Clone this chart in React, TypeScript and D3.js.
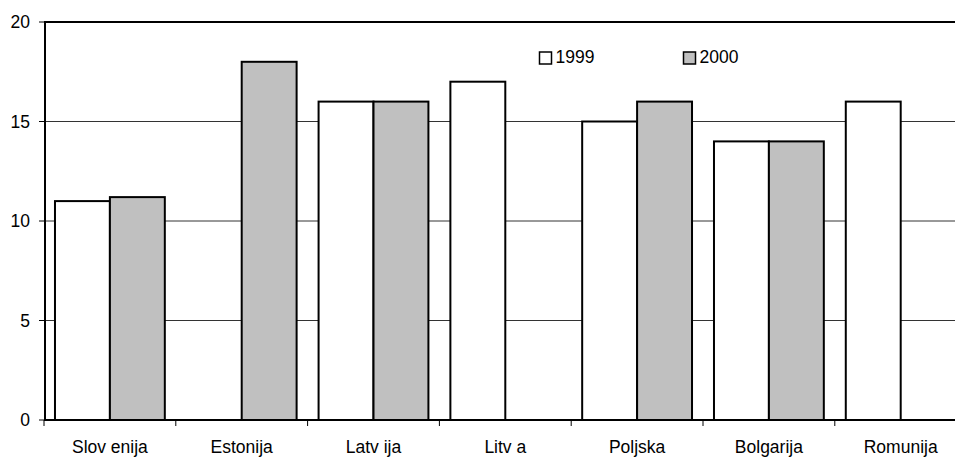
import React from "react";
import * as d3 from "d3";

const categories = ["Slov enija", "Estonija", "Latv ija", "Litv a", "Poljska", "Bolgarija", "Romunija"];
const series = ["1999", "2000"];
const values1999: (number | null)[] = [11, null, 16, 17, 15, 14, 16];
const values2000: (number | null)[] = [11.2, 18, 16, null, 16, 14, null];
const yTicks = [0, 5, 10, 15, 20];
const colors = ["#ffffff", "#c0c0c0"];

export default function App() {
  const W = 955, H = 457;
  const left = 45, top = 22, bottom = 420;
  const step = 131.8;
  const x = d3.scaleBand<string>().domain(categories).range([left - 1, left - 1 + step * categories.length]).padding(0);
  const xi = d3.scaleBand<string>().domain(series).range([0, x.bandwidth()]).paddingInner(0).paddingOuter(0.2);
  const y = d3.scaleLinear().domain([0, 20]).range([bottom, top]);
  const data = [values1999, values2000];
  const font = "Arial, 'Liberation Sans', sans-serif";
  const fs = 17.5;

  return (
    <svg width={W} height={H} style={{ position: "absolute", left: 0, top: 0, background: "#fff" }}>
      {yTicks.filter(t => t > 0 && t < 20).map(t => (
        <line key={"g" + t} x1={left} x2={W} y1={y(t)} y2={y(t)} stroke="#333" strokeWidth={1} />
      ))}
      <line x1={left} x2={W} y1={y(20)} y2={y(20)} stroke="#000" strokeWidth={2} />
      {yTicks.map(t => (
        <g key={"t" + t}>
          <line x1={left - 6} x2={left} y1={y(t)} y2={y(t)} stroke="#000" strokeWidth={1} />
          <text x={30} y={y(t)} dy="0.35em" textAnchor="end" fontFamily={font} fontSize={fs} fill="#000">{t}</text>
        </g>
      ))}
      {categories.map((c, i) =>
        data.map((vals, s) => {
          const v = vals[i];
          if (v == null) return null;
          const x0 = (x(c) as number) + (xi(series[s]) as number);
          return (
            <rect key={c + s} x={x0} y={y(v)} width={xi.bandwidth()} height={y(0) - y(v)}
              fill={colors[s]} stroke="#000" strokeWidth={2} />
          );
        })
      )}
      <line x1={left} x2={left} y1={top - 1} y2={bottom + 1} stroke="#000" strokeWidth={2} />
      <line x1={left} x2={W} y1={bottom} y2={bottom} stroke="#000" strokeWidth={2} />
      {categories.map((c, i) => (
        <g key={"x" + c}>
          <line x1={(x(c) as number)} x2={(x(c) as number)} y1={bottom} y2={bottom + 6} stroke="#000" strokeWidth={1} />
          <text x={(x(c) as number) + x.bandwidth() / 2} y={452.5} textAnchor="middle" fontFamily={font} fontSize={fs} fill="#000">{c}</text>
        </g>
      ))}
      {series.map((s, i) => {
        const lx = i === 0 ? 539.5 : 683.5;
        return (
          <g key={"l" + s}>
            <rect x={lx} y={52} width={12} height={12} fill={colors[i]} stroke="#000" strokeWidth={1.5} />
            <text x={lx + 16} y={63} fontFamily={font} fontSize={fs} fill="#000">{s}</text>
          </g>
        );
      })}
    </svg>
  );
}
